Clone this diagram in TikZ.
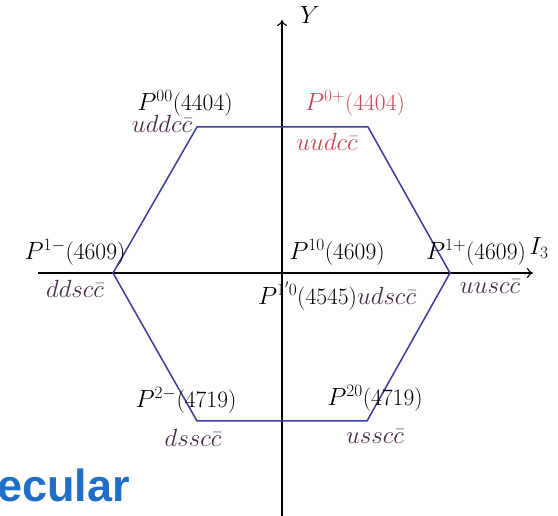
\documentclass[tikz,border=0pt]{standalone}
\usepackage{fontspec}
\newfontfamily\arialf{Liberation Sans}
\usetikzlibrary{arrows.meta}
\definecolor{hexblue}{HTML}{3C3C9C}
\definecolor{quarkc}{HTML}{4A2A4A}
\definecolor{redlab}{HTML}{CC4455}
\definecolor{titleblue}{HTML}{1F6FC8}
\tikzset{
  lab/.style={inner sep=0pt, font=\fontsize{23.5}{27}\selectfont},
  qlab/.style={lab, text=quarkc},
  axis/.style={line width=1.1pt, -{To[length=6pt,width=10pt]}},
  hexline/.style={line width=1.5pt, draw=hexblue, line join=miter},
}
\begin{document}
\begin{tikzpicture}[x=1pt,y=-1pt]
\useasboundingbox (0,0) rectangle (558,516);
\fill[white] (0,0) rectangle (558,516);
% axes
\coordinate (xs) at (38,273);
\coordinate (xe) at (533,273);
\coordinate (ys) at (282,516);
\coordinate (ye) at (282,20);
\draw[axis] (xs) -- (xe);
\draw[axis] (ys) -- (ye);
% hexagon
\coordinate (tl) at (197,127);
\coordinate (tr) at (368,127);
\coordinate (r) at (450,273);
\coordinate (br) at (367,421);
\coordinate (bl) at (197,421);
\coordinate (l) at (113,273);
\draw[hexline] (tl) -- (tr) -- (r) -- (br) -- (bl) -- (l) -- cycle;
% labels
\node[lab] (ylab) at (310,15) {$Y$};
\node[lab] (ilab) at (539,248) {$I_3$};
\node[lab] (p00) at (185,103) {$P^{00}$(4404)};
\node[qlab] (q00) at (162,124) {$uddc\bar c$};
\node[lab, text=redlab] (p0p) at (355,103) {$P^{0+}$(4404)};
\node[lab, text=redlab] (q0p) at (327,142) {$uudc\bar c$};
\node[lab] (p1m) at (75,252) {$P^{1-}$(4609)};
\node[qlab] (q1m) at (75,289) {$ddsc\bar c$};
\node[lab] (p10) at (337,252) {$P^{10}$(4609)};
\node[lab] (p1p0) at (337,296) {$P^{1'0}$(4545)\textcolor{quarkc}{$udsc\bar c$}};
\node[lab] (p1p) at (476,252) {$P^{1+}$(4609)};
\node[qlab] (q1p) at (490,287) {$uusc\bar c$};
\node[lab] (p2m) at (186,400) {$P^{2-}$(4719)};
\node[qlab] (q2m) at (193,438) {$dssc\bar c$};
\node[lab] (p20) at (375,398) {$P^{20}$(4719)};
\node[qlab] (q20) at (375,437) {$ussc\bar c$};
% title fragment
\node[inner sep=0pt, anchor=base west, text=titleblue, font=\arialf\bfseries\fontsize{45}{50}\selectfont] (title) at (-3,501) {ecular};
\end{tikzpicture}
\end{document}
